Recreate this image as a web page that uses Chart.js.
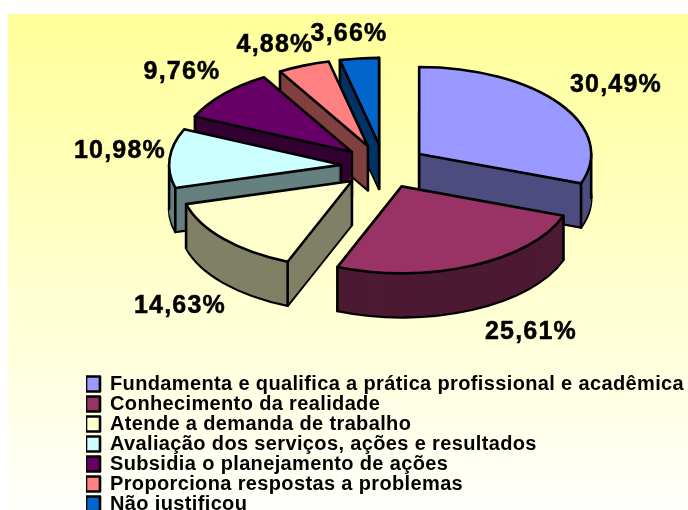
<!DOCTYPE html>
<html><head><meta charset="utf-8">
<style>html,body{margin:0;padding:0;background:#fff}canvas{display:block}</style>
<script src="https://cdn.jsdelivr.net/npm/chart.js@4"></script></head>
<body><canvas id="c" width="688" height="510"></canvas>
<script>
const categories = ["Fundamenta e qualifica a prática profissional e acadêmica","Conhecimento da realidade","Atende a demanda de trabalho","Avaliação dos serviços, ações e resultados","Subsidia o planejamento de ações","Proporciona respostas a problemas","Não justificou"];
const percentages = [30.49,25.61,14.63,10.98,9.76,4.88,3.66];
const topColors = ["#9999FF","#993366","#FFFFCC","#CCFFFF","#660066","#FF8080","#0066CC"];
const wallColors = ["#4D4D80","#4D1A33","#808066","#668080","#330033","#804040","#003366"];
const paintOrder = [6,5,4,3,0,2,1];
const labelCentres = [[616,85],[531,332],[180,306],[120,151],[182,72],[275,45],[349,34]];
const view = {cx:384, cy:166.5, radius:172, tilt:0.506, explode:43, depth:44, line:2.6};

function pieTransform(ctx, arc, dy, mid){
  ctx.setTransform(1,0,0,1,0,0);
  ctx.translate(view.cx, view.cy+dy);
  ctx.scale(1, view.tilt);
  ctx.translate(-arc.x+Math.cos(mid)*view.explode, -arc.y+Math.sin(mid)*view.explode);
}
const pie3d = {
  id:'pie3d',
  beforeDraw(chart){
    const {ctx,width,height}=chart;
    ctx.fillStyle='#fff'; ctx.fillRect(0,0,width,height);
    const g=ctx.createLinearGradient(0,14,0,510);
    g.addColorStop(0,'#FFFF99'); g.addColorStop(1,'#FFFFFB');
    ctx.fillStyle=g; ctx.fillRect(8,14,width-8,height-14);
    ctx.letterSpacing='0.36px';
  },
  afterLayout(chart){ const l=chart.legend; l.left=86; l.top=374; l.bottom=900; },
  beforeDatasetsDraw(chart){
    const ctx=chart.ctx, arcs=chart.getDatasetMeta(0).data;
    const origStroke=ctx.stroke;
    ctx.stroke=function(){ const m=ctx.getTransform(); ctx.setTransform(1,0,0,1,0,0); origStroke.call(ctx); ctx.setTransform(m); };
    ctx.save();
    paintOrder.forEach(i=>{
      const arc=arcs[i], base=arc.options;
      const mid=(arc.startAngle+arc.endAngle)/2;
      const tipX=view.cx+Math.cos(mid)*view.explode, tipY=view.cy+Math.sin(mid)*view.explode*view.tilt;
      const at=a=>[tipX+Math.cos(a)*view.radius, tipY+Math.sin(a)*view.radius*view.tilt];
      arc.options=Object.assign(Object.create(base),{backgroundColor:wallColors[i],borderColor:'#000',borderWidth:view.line});
      pieTransform(ctx,arc,view.depth,mid); arc.draw(ctx);
      arc.options=Object.assign(Object.create(base),{backgroundColor:wallColors[i],borderColor:wallColors[i],borderWidth:0});
      for(let d=view.depth-1;d>0;d--){ pieTransform(ctx,arc,d,mid); arc.draw(ctx); }
      const pts=[];
      const s=arc.startAngle, e=arc.endAngle;
      const startFaceVisible=Math.cos(s)<0, endFaceVisible=Math.cos(e)>0;
      if(startFaceVisible||endFaceVisible) pts.push([tipX,tipY]);
      if(startFaceVisible||Math.sin(s)>0) pts.push(at(s));
      if(endFaceVisible||Math.sin(e)>0) pts.push(at(e));
      [0,Math.PI].forEach(a=>{ if(a>s&&a<e) pts.push(at(a)); });
      ctx.setTransform(1,0,0,1,0,0);
      ctx.strokeStyle='#000'; ctx.lineWidth=view.line; ctx.lineCap='round';
      pts.forEach(p=>{ ctx.beginPath(); ctx.moveTo(p[0],p[1]); ctx.lineTo(p[0],p[1]+view.depth); origStroke.call(ctx); });
      arc.options=base;
      pieTransform(ctx,arc,0,mid); arc.draw(ctx);
    });
    ctx.restore();
    ctx.setTransform(1,0,0,1,0,0);
    delete ctx.stroke;
    ctx.save();
    ctx.font='bold 25px "Liberation Sans", Arial, sans-serif';
    ctx.letterSpacing='1.2px';
    ctx.fillStyle='#000'; ctx.strokeStyle='#000'; ctx.lineWidth=0.5;
    ctx.textAlign='center'; ctx.textBaseline='middle';
    percentages.forEach((v,i)=>{
      const t=v.toFixed(2).replace('.',',')+'%';
      ctx.fillText(t,labelCentres[i][0],labelCentres[i][1]);
      ctx.strokeText(t,labelCentres[i][0],labelCentres[i][1]);
    });
    ctx.restore();
    return false;
  }
};
new Chart(document.getElementById('c'),{
  type:'pie',
  data:{labels:categories,datasets:[{data:percentages,backgroundColor:topColors,borderColor:'#000',borderWidth:view.line,borderJoinStyle:'round',radius:view.radius}]},
  plugins:[pie3d],
  options:{
    responsive:false,animation:false,devicePixelRatio:1,
    layout:{padding:0},
    plugins:{
      tooltip:{enabled:false},
      legend:{position:'chartArea',align:'start',
        labels:{boxWidth:14,boxHeight:15,padding:0,color:'#000',
          font:{family:'"Liberation Sans", Arial, sans-serif',weight:'bold',size:20,lineHeight:1}}}
    }
  }
});
</script></body></html>
